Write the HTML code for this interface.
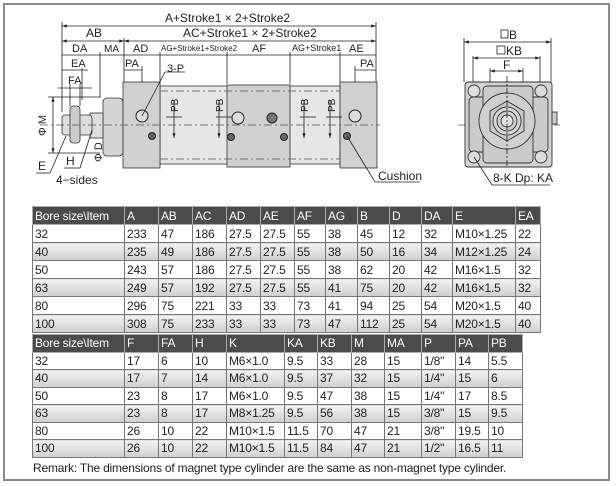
<!DOCTYPE html>
<html><head><meta charset="utf-8"><style>
html,body{margin:0;padding:0;background:#fff;}
body{width:616px;height:486px;position:relative;overflow:hidden;font-family:"Liberation Sans Narrow","Liberation Sans",sans-serif;}
.frame{position:absolute;left:3px;top:3px;width:607px;height:478px;border:2px solid #8a8a8a;box-sizing:border-box;}
svg{position:absolute;left:0;top:0;}
table{position:absolute;border-collapse:collapse;table-layout:fixed;font-size:12px;letter-spacing:-0.2px;color:#222;}
td{border:1px solid #777;padding:0 0 0 2px;overflow:hidden;white-space:nowrap;box-sizing:border-box;}
.t1 tr{height:18px;} .t2 tr{height:17.5px;}
tr.h td{background:#4b4b4b;color:#fff;border-color:#aaa;}
tr.g td{background:linear-gradient(#f2f2f2,#cfcfcf);}
.rem{position:absolute;left:33px;top:461px;font-size:12px;letter-spacing:-0.2px;color:#222;}
</style></head><body>
<div class="frame"></div>
<svg width="616" height="200" viewBox="0 0 616 200" font-family="Liberation Sans Narrow, Liberation Sans, sans-serif" font-size="11" fill="#222">
<defs><marker id="ar" markerWidth="6" markerHeight="4" refX="6" refY="2" orient="auto-start-reverse"><path d="M0,0L6,2L0,4z" fill="#222"/></marker></defs>
<g stroke="#222" stroke-width="0.8" fill="none">
<line x1="62" y1="22" x2="62" y2="112"/><line x1="376" y1="22" x2="376" y2="82"/>
<line x1="124" y1="38" x2="124" y2="82"/><line x1="100" y1="52" x2="100" y2="98"/>
<line x1="160" y1="52" x2="160" y2="84"/><line x1="227" y1="52" x2="227" y2="84"/>
<line x1="290" y1="52" x2="290" y2="84"/><line x1="340" y1="52" x2="340" y2="82"/>
<line x1="62" y1="26" x2="376" y2="26" marker-start="url(#ar)" marker-end="url(#ar)"/>
<line x1="62" y1="41" x2="124" y2="41" marker-start="url(#ar)" marker-end="url(#ar)"/>
<line x1="124" y1="41" x2="376" y2="41" marker-start="url(#ar)" marker-end="url(#ar)"/>
<line x1="62" y1="55" x2="376" y2="55"/>
<line x1="62" y1="70" x2="88" y2="70"/><line x1="82" y1="68" x2="82" y2="100"/>
<line x1="58" y1="88" x2="92" y2="88"/><line x1="70" y1="84" x2="70" y2="106"/><line x1="80" y1="84" x2="80" y2="106"/>
<line x1="124" y1="70" x2="142" y2="70"/><line x1="142" y1="66" x2="142" y2="110"/>
<line x1="355" y1="70" x2="376" y2="70"/><line x1="355" y1="66" x2="355" y2="110"/>
<line x1="48" y1="97" x2="100" y2="97"/><line x1="48" y1="153" x2="100" y2="153"/>
<line x1="53" y1="97" x2="53" y2="153" marker-start="url(#ar)" marker-end="url(#ar)"/>
</g>
<text x="165" y="22" font-size="12">A+Stroke1 × 2+Stroke2</text>
<text x="183" y="37" font-size="12">AC+Stroke1 × 2+Stroke2</text>
<text x="86" y="37" font-size="12">AB</text>
<text x="72" y="52">DA</text><text x="104" y="52" font-size="10">MA</text>
<text x="133" y="52">AD</text><text x="161" y="51" font-size="8">AG+Stroke1+Stroke2</text>
<text x="252" y="52">AF</text><text x="292" y="51" font-size="9">AG+Stroke1</text><text x="349" y="52">AE</text>
<text x="71" y="67">EA</text><text x="68" y="84">FA</text>
<text x="125" y="67">PA</text><text x="360" y="67">PA</text><text x="167" y="72">3-P</text>
<text transform="translate(46,136) rotate(-90)">Φ M</text>
<g stroke="#333" stroke-width="0.8">
<rect x="160" y="86" width="180" height="78" fill="#e6e6e6"/>
<rect x="103" y="98" width="20" height="58" rx="4" fill="#d4d4d4"/>
<rect x="123" y="82" width="37" height="86" fill="#d0d0d0"/>
<rect x="227" y="85" width="63" height="82" fill="#d0d0d0"/>
<rect x="340" y="82" width="37" height="86" fill="#d0d0d0"/>
<rect x="90" y="113" width="13" height="25" fill="#ddd"/>
<rect x="62" y="115" width="30" height="20" rx="3" fill="#ddd"/>
<rect x="70" y="106" width="10" height="37" rx="3" fill="#ccc"/>
</g>
<g stroke="#555" stroke-width="0.7" fill="none" stroke-dasharray="8,3,2,3">
<line x1="160" y1="91" x2="340" y2="91"/><line x1="160" y1="159" x2="340" y2="159"/>
<line x1="40" y1="125" x2="380" y2="125"/><line x1="458" y1="125" x2="560" y2="125"/>
</g>
<g stroke="#222" stroke-width="1" fill="#ddd">
<circle cx="142" cy="116" r="6"/><circle cx="238" cy="118" r="6"/><circle cx="355" cy="116" r="6"/>
<circle cx="272" cy="118" r="5" fill="#777"/>
<circle cx="152" cy="136" r="3.5" fill="#666"/><circle cx="231" cy="137" r="3.5" fill="#666"/>
<circle cx="284" cy="137" r="3.5" fill="#666"/><circle cx="347" cy="136" r="3.5" fill="#666"/>
</g>
<g stroke="#222" stroke-width="0.8" fill="none">
<line x1="142" y1="116" x2="165" y2="72"/><line x1="165" y1="72" x2="185" y2="72"/>
<line x1="174" y1="100" x2="174" y2="138" marker-end="url(#ar)"/><line x1="219" y1="100" x2="219" y2="138" marker-end="url(#ar)"/>
<line x1="304" y1="100" x2="304" y2="138" marker-end="url(#ar)"/><line x1="330" y1="100" x2="330" y2="138" marker-end="url(#ar)"/>
<line x1="166" y1="117" x2="182" y2="117"/><line x1="216" y1="117" x2="232" y2="117"/><line x1="300" y1="117" x2="316" y2="117"/><line x1="326" y1="117" x2="342" y2="117"/>
<line x1="347" y1="136" x2="375" y2="182"/><line x1="375" y1="182" x2="420" y2="182"/>
<line x1="66" y1="136" x2="50" y2="173"/><line x1="36" y1="173" x2="50" y2="173"/>
<line x1="92" y1="130" x2="80" y2="168"/><line x1="64" y1="168" x2="80" y2="168"/>
</g>
<g font-size="10"><text transform="translate(178,112) rotate(-90)">PB</text><text transform="translate(223,112) rotate(-90)">PB</text>
<text transform="translate(308,112) rotate(-90)">PB</text><text transform="translate(335,112) rotate(-90)">PB</text></g>
<text transform="translate(102,162) rotate(-90)">Φ D</text>
<text x="38" y="170" font-size="12">E</text><text x="66" y="165" font-size="12">H</text><text x="56" y="184" font-size="12">4−sides</text>
<text x="378" y="180" font-size="12">Cushion</text>
<g stroke="#222" stroke-width="0.8" fill="none">
<line x1="464" y1="38" x2="464" y2="82"/><line x1="551" y1="38" x2="551" y2="82"/>
<line x1="473" y1="56" x2="473" y2="84"/><line x1="540" y1="56" x2="540" y2="84"/>
<line x1="490" y1="68" x2="490" y2="112"/><line x1="523" y1="68" x2="523" y2="112"/>
<line x1="464" y1="42" x2="551" y2="42" marker-start="url(#ar)" marker-end="url(#ar)"/>
<line x1="473" y1="58" x2="540" y2="58" marker-start="url(#ar)" marker-end="url(#ar)"/>
<line x1="490" y1="71" x2="523" y2="71" marker-start="url(#ar)" marker-end="url(#ar)"/>
<rect x="501" y="30" width="7" height="8"/><rect x="497" y="46" width="8" height="8"/>
</g>
<text x="509" y="39" font-size="12">B</text><text x="506" y="55" font-size="12">KB</text><text x="503" y="69" font-size="12">F</text>
<g stroke="#333" stroke-width="0.9">
<rect x="465" y="82" width="87" height="85" rx="3" fill="#d2d2d2"/>
<rect x="469" y="97" width="79" height="55" rx="4" fill="#cacaca"/>
<rect x="483" y="86" width="50" height="77" rx="4" fill="#cacaca"/>
<rect x="552" y="112" width="5" height="12" fill="#ccc"/>
<circle cx="507" cy="121" r="28" fill="#cfcfcf"/>
<polygon points="507,101 524,111 524,131 507,141 490,131 490,111" fill="#c8c8c8"/>
<circle cx="507" cy="121" r="14" fill="#d6d6d6"/><circle cx="507" cy="121" r="10" fill="#ccc"/><circle cx="507" cy="121" r="6" fill="#e2e2e2"/>
<circle cx="474" cy="91" r="6" fill="#ddd"/><circle cx="541" cy="91" r="6" fill="#ddd"/>
<circle cx="474" cy="157" r="6" fill="#ddd"/><circle cx="541" cy="157" r="6" fill="#ddd"/>
</g>
<g stroke="#222" stroke-width="0.8" fill="none"><line x1="474" y1="157" x2="492" y2="185"/><line x1="492" y1="185" x2="550" y2="185"/>
<line x1="507" y1="76" x2="507" y2="168" stroke-dasharray="6,2,2,2"/></g>
<text x="493" y="182" font-size="12">8-K Dp: KA</text>
</svg>
<table class="t1" style="left:32px;top:206px;width:508px">
<colgroup><col style="width:92px"><col style="width:34px"><col style="width:34px"><col style="width:34px"><col style="width:34px"><col style="width:34px"><col style="width:31px"><col style="width:32px"><col style="width:32px"><col style="width:32px"><col style="width:31px"><col style="width:63px"><col style="width:25px"></colgroup>
<tr class="h"><td>Bore size\Item</td><td>A</td><td>AB</td><td>AC</td><td>AD</td><td>AE</td><td>AF</td><td>AG</td><td>B</td><td>D</td><td>DA</td><td>E</td><td>EA</td></tr>
<tr><td>32</td><td>233</td><td>47</td><td>186</td><td>27.5</td><td>27.5</td><td>55</td><td>38</td><td>45</td><td>12</td><td>32</td><td>M10×1.25</td><td>22</td></tr>
<tr class="g"><td>40</td><td>235</td><td>49</td><td>186</td><td>27.5</td><td>27.5</td><td>55</td><td>38</td><td>50</td><td>16</td><td>34</td><td>M12×1.25</td><td>24</td></tr>
<tr><td>50</td><td>243</td><td>57</td><td>186</td><td>27.5</td><td>27.5</td><td>55</td><td>38</td><td>62</td><td>20</td><td>42</td><td>M16×1.5</td><td>32</td></tr>
<tr class="g"><td>63</td><td>249</td><td>57</td><td>192</td><td>27.5</td><td>27.5</td><td>55</td><td>41</td><td>75</td><td>20</td><td>42</td><td>M16×1.5</td><td>32</td></tr>
<tr><td>80</td><td>296</td><td>75</td><td>221</td><td>33</td><td>33</td><td>73</td><td>41</td><td>94</td><td>25</td><td>54</td><td>M20×1.5</td><td>40</td></tr>
<tr class="g"><td>100</td><td>308</td><td>75</td><td>233</td><td>33</td><td>33</td><td>73</td><td>47</td><td>112</td><td>25</td><td>54</td><td>M20×1.5</td><td>40</td></tr>
</table>
<table class="t2" style="left:32px;top:334px;width:490px">
<colgroup><col style="width:92px"><col style="width:34px"><col style="width:34px"><col style="width:34px"><col style="width:58px"><col style="width:33px"><col style="width:34px"><col style="width:33px"><col style="width:37px"><col style="width:34px"><col style="width:33px"><col style="width:34px"></colgroup>
<tr class="h"><td>Bore size\Item</td><td>F</td><td>FA</td><td>H</td><td>K</td><td>KA</td><td>KB</td><td>M</td><td>MA</td><td>P</td><td>PA</td><td>PB</td></tr>
<tr><td>32</td><td>17</td><td>6</td><td>10</td><td>M6×1.0</td><td>9.5</td><td>33</td><td>28</td><td>15</td><td>1/8"</td><td>14</td><td>5.5</td></tr>
<tr class="g"><td>40</td><td>17</td><td>7</td><td>14</td><td>M6×1.0</td><td>9.5</td><td>37</td><td>32</td><td>15</td><td>1/4"</td><td>15</td><td>6</td></tr>
<tr><td>50</td><td>23</td><td>8</td><td>17</td><td>M6×1.0</td><td>9.5</td><td>47</td><td>38</td><td>15</td><td>1/4"</td><td>17</td><td>8.5</td></tr>
<tr class="g"><td>63</td><td>23</td><td>8</td><td>17</td><td>M8×1.25</td><td>9.5</td><td>56</td><td>38</td><td>15</td><td>3/8"</td><td>15</td><td>9.5</td></tr>
<tr><td>80</td><td>26</td><td>10</td><td>22</td><td>M10×1.5</td><td>11.5</td><td>70</td><td>47</td><td>21</td><td>3/8"</td><td>19.5</td><td>10</td></tr>
<tr class="g"><td>100</td><td>26</td><td>10</td><td>22</td><td>M10×1.5</td><td>11.5</td><td>84</td><td>47</td><td>21</td><td>1/2"</td><td>16.5</td><td>11</td></tr>
</table>
<div class="rem">Remark: The dimensions of magnet type cylinder are the same as non-magnet type cylinder.</div>
</body></html>
